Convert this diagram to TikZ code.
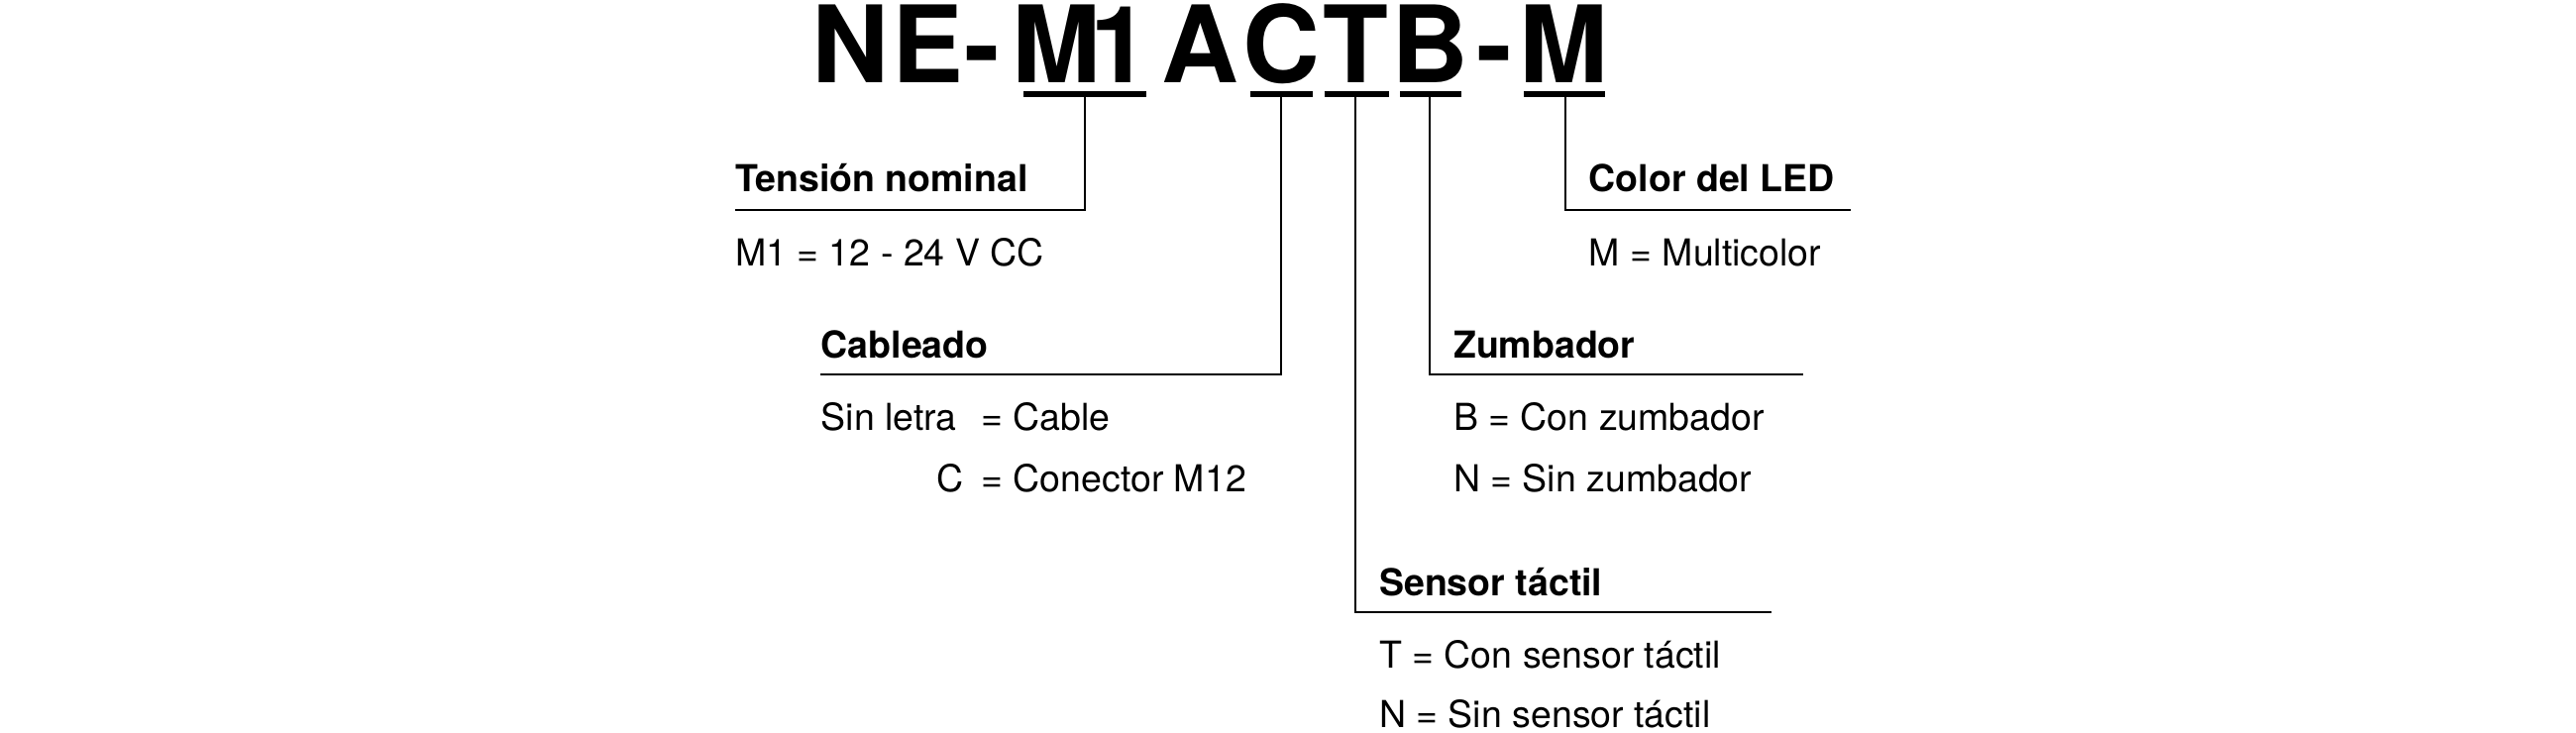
\documentclass[tikz,border=0pt]{standalone}
\usepackage{fontspec}
\setmainfont{TeX Gyre Heros}
\begin{document}
\begin{tikzpicture}[x=0.025cm,y=-0.025cm,
  big/.style={font=\fontsize{46}{50}\selectfont\bfseries,anchor=base,inner sep=0pt},
  head/.style={font=\fontsize{16}{19}\selectfont\bfseries,anchor=base west,inner sep=0pt},
  txt/.style={font=\fontsize{16}{19}\selectfont,anchor=base west,inner sep=0pt},
  ul/.style={line width=2.8pt},
  ln/.style={line width=0.9pt}]
\useasboundingbox (0,0) rectangle (1560,444);
\foreach \c/\x/\n in {N/515/t1,E/562/t2,-/595/t3,M/640/t4,1/678/t5,A/727/t6,C/776/t7,T/821/t8,B/866/t9,-/905/t10,M/947/t11}
  \node[big] (\n) at (\x,50) {\c};
% underlines
\coordinate (uM1a) at (620,57); \coordinate (uM1b) at (694,57);
\coordinate (uCa) at (757,57); \coordinate (uCb) at (795,57);
\coordinate (uTa) at (802,57); \coordinate (uTb) at (841,57);
\coordinate (uBa) at (848,57); \coordinate (uBb) at (885,57);
\coordinate (uMa) at (923,57); \coordinate (uMb) at (972,57);
\draw[ul] (uM1a) -- (uM1b); \draw[ul] (uCa) -- (uCb); \draw[ul] (uTa) -- (uTb);
\draw[ul] (uBa) -- (uBb); \draw[ul] (uMa) -- (uMb);
% leaders
\coordinate (s1) at (657,57); \coordinate (c1) at (657,127); \coordinate (e1) at (445,127);
\coordinate (s2) at (776,57); \coordinate (c2) at (776,227); \coordinate (e2) at (497,227);
\coordinate (s3) at (821,57); \coordinate (c3) at (821,371); \coordinate (e3) at (1073,371);
\coordinate (s4) at (866,57); \coordinate (c4) at (866,227); \coordinate (e4) at (1092,227);
\coordinate (s5) at (948,57); \coordinate (c5) at (948,127); \coordinate (e5) at (1121,127);
\draw[ln] (s1) -- (c1) -- (e1);
\draw[ln] (s2) -- (c2) -- (e2);
\draw[ln] (s3) -- (c3) -- (e3);
\draw[ln] (s4) -- (c4) -- (e4);
\draw[ln] (s5) -- (c5) -- (e5);
% labels
\node[head] (h1) at (445,116) {Tensión nominal};
\node[txt] (l1) at (445,161) {M1 = 12 - 24 V CC};
\node[head] (h2) at (497,217) {Cableado};
\node[txt] (l2) at (497,261) {Sin letra};
\node[txt] (l2b) at (594,261) {= Cable};
\node[txt] (l3) at (567,298) {C};
\node[txt] (l3b) at (594,298) {= Conector M12};
\node[head] (h3) at (835,361) {Sensor táctil};
\node[txt] (l4) at (835,405) {T = Con sensor táctil};
\node[txt] (l5) at (835,441) {N = Sin sensor táctil};
\node[head] (h4) at (880,217) {Zumbador};
\node[txt] (l6) at (880,261) {B = Con zumbador};
\node[txt] (l7) at (880,298) {N = Sin zumbador};
\node[head] (h5) at (962,116) {Color del LED};
\node[txt] (l8) at (962,161) {M = Multicolor};
\end{tikzpicture}
\end{document}
